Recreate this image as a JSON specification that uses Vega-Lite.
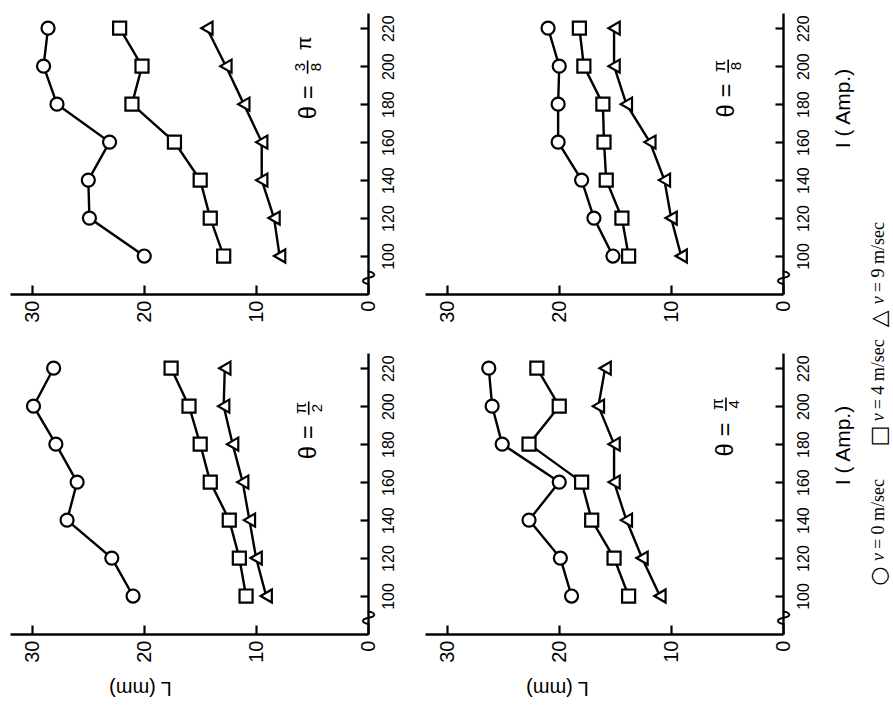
{
  "$schema": "https://vega.github.io/schema/vega-lite/v6.json",
  "background": "white",
  "padding": {"left": 10, "top": 13, "right": 10, "bottom": 20},
  "datasets": {
    "meas": [
      {"theta": "3π/8", "v": "0", "I": 100, "L": 20.0}, {"theta": "3π/8", "v": "0", "I": 120, "L": 24.9}, {"theta": "3π/8", "v": "0", "I": 140, "L": 25.0}, {"theta": "3π/8", "v": "0", "I": 160, "L": 23.1}, {"theta": "3π/8", "v": "0", "I": 180, "L": 27.8}, {"theta": "3π/8", "v": "0", "I": 200, "L": 29.0}, {"theta": "3π/8", "v": "0", "I": 220, "L": 28.6},
      {"theta": "3π/8", "v": "4", "I": 100, "L": 12.9}, {"theta": "3π/8", "v": "4", "I": 120, "L": 14.1}, {"theta": "3π/8", "v": "4", "I": 140, "L": 15.0}, {"theta": "3π/8", "v": "4", "I": 160, "L": 17.3}, {"theta": "3π/8", "v": "4", "I": 180, "L": 21.1}, {"theta": "3π/8", "v": "4", "I": 200, "L": 20.2}, {"theta": "3π/8", "v": "4", "I": 220, "L": 22.2},
      {"theta": "3π/8", "v": "9", "I": 100, "L": 7.9}, {"theta": "3π/8", "v": "9", "I": 120, "L": 8.4}, {"theta": "3π/8", "v": "9", "I": 140, "L": 9.5}, {"theta": "3π/8", "v": "9", "I": 160, "L": 9.5}, {"theta": "3π/8", "v": "9", "I": 180, "L": 11.1}, {"theta": "3π/8", "v": "9", "I": 200, "L": 12.7}, {"theta": "3π/8", "v": "9", "I": 220, "L": 14.4},
      {"theta": "π/8", "v": "0", "I": 100, "L": 15.2}, {"theta": "π/8", "v": "0", "I": 120, "L": 16.9}, {"theta": "π/8", "v": "0", "I": 140, "L": 18.0}, {"theta": "π/8", "v": "0", "I": 160, "L": 20.1}, {"theta": "π/8", "v": "0", "I": 180, "L": 20.1}, {"theta": "π/8", "v": "0", "I": 200, "L": 20.0}, {"theta": "π/8", "v": "0", "I": 220, "L": 21.0},
      {"theta": "π/8", "v": "4", "I": 100, "L": 13.8}, {"theta": "π/8", "v": "4", "I": 120, "L": 14.4}, {"theta": "π/8", "v": "4", "I": 140, "L": 15.8}, {"theta": "π/8", "v": "4", "I": 160, "L": 16.0}, {"theta": "π/8", "v": "4", "I": 180, "L": 16.1}, {"theta": "π/8", "v": "4", "I": 200, "L": 17.8}, {"theta": "π/8", "v": "4", "I": 220, "L": 18.2},
      {"theta": "π/8", "v": "9", "I": 100, "L": 9.1}, {"theta": "π/8", "v": "9", "I": 120, "L": 10.0}, {"theta": "π/8", "v": "9", "I": 140, "L": 10.6}, {"theta": "π/8", "v": "9", "I": 160, "L": 11.9}, {"theta": "π/8", "v": "9", "I": 180, "L": 14.0}, {"theta": "π/8", "v": "9", "I": 200, "L": 15.1}, {"theta": "π/8", "v": "9", "I": 220, "L": 15.1},
      {"theta": "π/2", "v": "0", "I": 100, "L": 21.0}, {"theta": "π/2", "v": "0", "I": 120, "L": 22.9}, {"theta": "π/2", "v": "0", "I": 140, "L": 26.9}, {"theta": "π/2", "v": "0", "I": 160, "L": 26.0}, {"theta": "π/2", "v": "0", "I": 180, "L": 27.9}, {"theta": "π/2", "v": "0", "I": 200, "L": 29.9}, {"theta": "π/2", "v": "0", "I": 220, "L": 28.1},
      {"theta": "π/2", "v": "4", "I": 100, "L": 10.9}, {"theta": "π/2", "v": "4", "I": 120, "L": 11.5}, {"theta": "π/2", "v": "4", "I": 140, "L": 12.4}, {"theta": "π/2", "v": "4", "I": 160, "L": 14.1}, {"theta": "π/2", "v": "4", "I": 180, "L": 15.0}, {"theta": "π/2", "v": "4", "I": 200, "L": 16.0}, {"theta": "π/2", "v": "4", "I": 220, "L": 17.6},
      {"theta": "π/2", "v": "9", "I": 100, "L": 9.1}, {"theta": "π/2", "v": "9", "I": 120, "L": 10.0}, {"theta": "π/2", "v": "9", "I": 140, "L": 10.6}, {"theta": "π/2", "v": "9", "I": 160, "L": 11.2}, {"theta": "π/2", "v": "9", "I": 180, "L": 12.1}, {"theta": "π/2", "v": "9", "I": 200, "L": 12.9}, {"theta": "π/2", "v": "9", "I": 220, "L": 12.8},
      {"theta": "π/4", "v": "0", "I": 100, "L": 18.9}, {"theta": "π/4", "v": "0", "I": 120, "L": 19.9}, {"theta": "π/4", "v": "0", "I": 140, "L": 22.7}, {"theta": "π/4", "v": "0", "I": 160, "L": 20.0}, {"theta": "π/4", "v": "0", "I": 180, "L": 25.1}, {"theta": "π/4", "v": "0", "I": 200, "L": 26.0}, {"theta": "π/4", "v": "0", "I": 220, "L": 26.3},
      {"theta": "π/4", "v": "4", "I": 100, "L": 13.8}, {"theta": "π/4", "v": "4", "I": 120, "L": 15.1}, {"theta": "π/4", "v": "4", "I": 140, "L": 17.1}, {"theta": "π/4", "v": "4", "I": 160, "L": 18.0}, {"theta": "π/4", "v": "4", "I": 180, "L": 22.7}, {"theta": "π/4", "v": "4", "I": 200, "L": 20.0}, {"theta": "π/4", "v": "4", "I": 220, "L": 22.0},
      {"theta": "π/4", "v": "9", "I": 100, "L": 11.0}, {"theta": "π/4", "v": "9", "I": 120, "L": 12.6}, {"theta": "π/4", "v": "9", "I": 140, "L": 14.0}, {"theta": "π/4", "v": "9", "I": 160, "L": 15.1}, {"theta": "π/4", "v": "9", "I": 180, "L": 15.1}, {"theta": "π/4", "v": "9", "I": 200, "L": 16.5}, {"theta": "π/4", "v": "9", "I": 220, "L": 15.9}
    ],
    "legend": [
      {"sym": "○", "label": "= 0 m/sec", "I": 110.5, "T": 118.4},
      {"sym": "□", "label": "= 4 m/sec", "I": 184.2, "T": 192},
      {"sym": "△", "label": "= 9 m/sec", "I": 246, "T": 253.7}
    ]
  },
  "columns": 2,
  "bounds": "flush",
  "spacing": {"row": 59, "column": 57},
  "concat": [
    {
      "width": 358, "height": 281,
      "layer": [
        {"data": {"name": "meas"}, "transform": [{"filter": "datum.theta === '3π/8'"}],
         "mark": {"type": "line", "color": "black", "strokeWidth": 2.4},
         "encoding": {
           "x": {"field": "L", "type": "quantitative", "scale": {"domain": [0, 32], "reverse": true, "nice": false, "zero": false},
                 "axis": {"values": [0, 10, 20, 30], "labelAngle": 270, "labelAlign": "right", "labelBaseline": "middle", "labelFontSize": 20, "tickSize": -9, "labelPadding": 15, "title": null}},
           "y": {"field": "I", "type": "quantitative", "scale": {"domain": [80, 228], "nice": false, "zero": false},
                 "axis": {"orient": "right", "values": [100, 120, 140, 160, 180, 200, 220], "labelAngle": 270, "labelAlign": "center", "labelBaseline": "top", "labelFontSize": 16, "tickSize": -8, "labelPadding": 20, "title": null}},
           "detail": {"field": "v", "type": "nominal"},
           "order": {"field": "I", "type": "quantitative"}
         }},
        {"data": {"name": "meas"}, "transform": [{"filter": "datum.theta === '3π/8'"}],
         "mark": {"type": "point", "filled": true, "fill": "white", "stroke": "black", "strokeWidth": 2.2, "size": 170, "opacity": 1},
         "encoding": {
           "x": {"field": "L", "type": "quantitative"},
           "y": {"field": "I", "type": "quantitative"},
           "shape": {"field": "v", "type": "nominal", "scale": {"domain": ["0", "4", "9"], "range": ["circle", "square", "triangle-left"]}, "legend": null}
         }},
        {"data": {"values": [{}]}, "mark": {"type": "text", "text": "θ =", "angle": 270, "align": "left", "baseline": "middle", "fontSize": 24},
         "encoding": {"x": {"datum": 5.3, "type": "quantitative"}, "y": {"datum": 172, "type": "quantitative"}}},
        {"data": {"values": [{}]}, "mark": {"type": "text", "text": "3", "angle": 270, "align": "center", "baseline": "middle", "fontSize": 15, "dy": -8},
         "encoding": {"x": {"datum": 5.4, "type": "quantitative"}, "y": {"datum": 199.5, "type": "quantitative"}}},
        {"data": {"values": [{}]}, "mark": {"type": "text", "text": "8", "angle": 270, "align": "center", "baseline": "middle", "fontSize": 15, "dy": 8},
         "encoding": {"x": {"datum": 5.4, "type": "quantitative"}, "y": {"datum": 199.5, "type": "quantitative"}}},
        {"data": {"values": [{}]}, "mark": {"type": "rule", "color": "black", "strokeWidth": 1.6},
         "encoding": {"x": {"datum": 5.4, "type": "quantitative"}, "y": {"datum": 196, "type": "quantitative"}, "y2": {"datum": 203}}},
        {"data": {"values": [{}]}, "mark": {"type": "text", "text": "π", "angle": 270, "align": "center", "baseline": "middle", "fontSize": 20},
         "encoding": {"x": {"datum": 5.6, "type": "quantitative"}, "y": {"datum": 212, "type": "quantitative"}}},
        {"data": {"values": [{}]}, "mark": {"type": "text", "text": "∿", "angle": 90, "align": "center", "baseline": "middle", "fontSize": 24, "font": "DejaVu Sans"},
         "encoding": {"x": {"datum": 0, "type": "quantitative"}, "y": {"datum": 88.5, "type": "quantitative"}}}
      ]
    },
    {
      "width": 358, "height": 281,
      "layer": [
        {"data": {"name": "meas"}, "transform": [{"filter": "datum.theta === 'π/8'"}],
         "mark": {"type": "line", "color": "black", "strokeWidth": 2.4},
         "encoding": {
           "x": {"field": "L", "type": "quantitative", "scale": {"domain": [0, 32], "reverse": true, "nice": false, "zero": false},
                 "axis": {"values": [0, 10, 20, 30], "labelAngle": 270, "labelAlign": "right", "labelBaseline": "middle", "labelFontSize": 20, "tickSize": -9, "labelPadding": 15, "title": null}},
           "y": {"field": "I", "type": "quantitative", "scale": {"domain": [80, 228], "nice": false, "zero": false},
                 "axis": {"orient": "right", "values": [100, 120, 140, 160, 180, 200, 220], "labelAngle": 270, "labelAlign": "center", "labelBaseline": "top", "labelFontSize": 16, "tickSize": -8, "labelPadding": 20,
                          "title": "I ( Amp.)", "titleAngle": 270, "titleFontSize": 21, "titleAlign": "center", "titleBaseline": "middle", "titleX": 60, "titleY": 95}},
           "detail": {"field": "v", "type": "nominal"},
           "order": {"field": "I", "type": "quantitative"}
         }},
        {"data": {"name": "meas"}, "transform": [{"filter": "datum.theta === 'π/8'"}],
         "mark": {"type": "point", "filled": true, "fill": "white", "stroke": "black", "strokeWidth": 2.2, "size": 170, "opacity": 1},
         "encoding": {
           "x": {"field": "L", "type": "quantitative"},
           "y": {"field": "I", "type": "quantitative"},
           "shape": {"field": "v", "type": "nominal", "scale": {"domain": ["0", "4", "9"], "range": ["circle", "square", "triangle-left"]}, "legend": null}
         }},
        {"data": {"values": [{}]}, "mark": {"type": "text", "text": "θ =", "angle": 270, "align": "left", "baseline": "middle", "fontSize": 24},
         "encoding": {"x": {"datum": 5.0, "type": "quantitative"}, "y": {"datum": 173, "type": "quantitative"}}},
        {"data": {"values": [{}]}, "mark": {"type": "text", "text": "π", "angle": 270, "align": "center", "baseline": "middle", "fontSize": 17, "dy": -8},
         "encoding": {"x": {"datum": 4.9, "type": "quantitative"}, "y": {"datum": 200, "type": "quantitative"}}},
        {"data": {"values": [{}]}, "mark": {"type": "text", "text": "8", "angle": 270, "align": "center", "baseline": "middle", "fontSize": 15, "dy": 8},
         "encoding": {"x": {"datum": 4.9, "type": "quantitative"}, "y": {"datum": 200, "type": "quantitative"}}},
        {"data": {"values": [{}]}, "mark": {"type": "rule", "color": "black", "strokeWidth": 1.6},
         "encoding": {"x": {"datum": 4.9, "type": "quantitative"}, "y": {"datum": 196.5, "type": "quantitative"}, "y2": {"datum": 203.5}}},
        {"data": {"values": [{}]}, "mark": {"type": "text", "text": "∿", "angle": 90, "align": "center", "baseline": "middle", "fontSize": 24, "font": "DejaVu Sans"},
         "encoding": {"x": {"datum": 0, "type": "quantitative"}, "y": {"datum": 88.5, "type": "quantitative"}}}
      ]
    },
    {
      "width": 358, "height": 281,
      "layer": [
        {"data": {"name": "meas"}, "transform": [{"filter": "datum.theta === 'π/2'"}],
         "mark": {"type": "line", "color": "black", "strokeWidth": 2.4},
         "encoding": {
           "x": {"field": "L", "type": "quantitative", "scale": {"domain": [0, 32], "reverse": true, "nice": false, "zero": false},
                 "axis": {"values": [0, 10, 20, 30], "labelAngle": 270, "labelAlign": "right", "labelBaseline": "middle", "labelFontSize": 20, "tickSize": -9, "labelPadding": 15,
                          "title": "L  (mm)", "titleAngle": 180, "titleFontSize": 20, "titleAlign": "center", "titleBaseline": "middle", "titleX": 130, "titleY": 53}},
           "y": {"field": "I", "type": "quantitative", "scale": {"domain": [80, 228], "nice": false, "zero": false},
                 "axis": {"orient": "right", "values": [100, 120, 140, 160, 180, 200, 220], "labelAngle": 270, "labelAlign": "center", "labelBaseline": "top", "labelFontSize": 16, "tickSize": -8, "labelPadding": 20, "title": null}},
           "detail": {"field": "v", "type": "nominal"},
           "order": {"field": "I", "type": "quantitative"}
         }},
        {"data": {"name": "meas"}, "transform": [{"filter": "datum.theta === 'π/2'"}],
         "mark": {"type": "point", "filled": true, "fill": "white", "stroke": "black", "strokeWidth": 2.2, "size": 170, "opacity": 1},
         "encoding": {
           "x": {"field": "L", "type": "quantitative"},
           "y": {"field": "I", "type": "quantitative"},
           "shape": {"field": "v", "type": "nominal", "scale": {"domain": ["0", "4", "9"], "range": ["circle", "square", "triangle-left"]}, "legend": null}
         }},
        {"data": {"values": [{}]}, "mark": {"type": "text", "text": "θ =", "angle": 270, "align": "left", "baseline": "middle", "fontSize": 24},
         "encoding": {"x": {"datum": 5.3, "type": "quantitative"}, "y": {"datum": 172, "type": "quantitative"}}},
        {"data": {"values": [{}]}, "mark": {"type": "text", "text": "π", "angle": 270, "align": "center", "baseline": "middle", "fontSize": 17, "dy": -8},
         "encoding": {"x": {"datum": 5.3, "type": "quantitative"}, "y": {"datum": 199, "type": "quantitative"}}},
        {"data": {"values": [{}]}, "mark": {"type": "text", "text": "2", "angle": 270, "align": "center", "baseline": "middle", "fontSize": 15, "dy": 8},
         "encoding": {"x": {"datum": 5.3, "type": "quantitative"}, "y": {"datum": 199, "type": "quantitative"}}},
        {"data": {"values": [{}]}, "mark": {"type": "rule", "color": "black", "strokeWidth": 1.6},
         "encoding": {"x": {"datum": 5.3, "type": "quantitative"}, "y": {"datum": 195.5, "type": "quantitative"}, "y2": {"datum": 202.5}}},
        {"data": {"values": [{}]}, "mark": {"type": "text", "text": "∿", "angle": 90, "align": "center", "baseline": "middle", "fontSize": 24, "font": "DejaVu Sans"},
         "encoding": {"x": {"datum": 0, "type": "quantitative"}, "y": {"datum": 88.5, "type": "quantitative"}}}
      ]
    },
    {
      "width": 358, "height": 281,
      "layer": [
        {"data": {"name": "meas"}, "transform": [{"filter": "datum.theta === 'π/4'"}],
         "mark": {"type": "line", "color": "black", "strokeWidth": 2.4},
         "encoding": {
           "x": {"field": "L", "type": "quantitative", "scale": {"domain": [0, 32], "reverse": true, "nice": false, "zero": false},
                 "axis": {"values": [0, 10, 20, 30], "labelAngle": 270, "labelAlign": "right", "labelBaseline": "middle", "labelFontSize": 20, "tickSize": -9, "labelPadding": 15,
                          "title": "L  (mm)", "titleAngle": 180, "titleFontSize": 20, "titleAlign": "center", "titleBaseline": "middle", "titleX": 132, "titleY": 53}},
           "y": {"field": "I", "type": "quantitative", "scale": {"domain": [80, 228], "nice": false, "zero": false},
                 "axis": {"orient": "right", "values": [100, 120, 140, 160, 180, 200, 220], "labelAngle": 270, "labelAlign": "center", "labelBaseline": "top", "labelFontSize": 16, "tickSize": -8, "labelPadding": 20,
                          "title": "I ( Amp.)", "titleAngle": 270, "titleFontSize": 21, "titleAlign": "center", "titleBaseline": "middle", "titleX": 60, "titleY": 92}},
           "detail": {"field": "v", "type": "nominal"},
           "order": {"field": "I", "type": "quantitative"}
         }},
        {"data": {"name": "meas"}, "transform": [{"filter": "datum.theta === 'π/4'"}],
         "mark": {"type": "point", "filled": true, "fill": "white", "stroke": "black", "strokeWidth": 2.2, "size": 170, "opacity": 1},
         "encoding": {
           "x": {"field": "L", "type": "quantitative"},
           "y": {"field": "I", "type": "quantitative"},
           "shape": {"field": "v", "type": "nominal", "scale": {"domain": ["0", "4", "9"], "range": ["circle", "square", "triangle-left"]}, "legend": null}
         }},
        {"data": {"values": [{}]}, "mark": {"type": "text", "text": "θ =", "angle": 270, "align": "left", "baseline": "middle", "fontSize": 24},
         "encoding": {"x": {"datum": 5.1, "type": "quantitative"}, "y": {"datum": 173.5, "type": "quantitative"}}},
        {"data": {"values": [{}]}, "mark": {"type": "text", "text": "π", "angle": 270, "align": "center", "baseline": "middle", "fontSize": 17, "dy": -8},
         "encoding": {"x": {"datum": 5.1, "type": "quantitative"}, "y": {"datum": 201, "type": "quantitative"}}},
        {"data": {"values": [{}]}, "mark": {"type": "text", "text": "4", "angle": 270, "align": "center", "baseline": "middle", "fontSize": 15, "dy": 8},
         "encoding": {"x": {"datum": 5.1, "type": "quantitative"}, "y": {"datum": 201, "type": "quantitative"}}},
        {"data": {"values": [{}]}, "mark": {"type": "rule", "color": "black", "strokeWidth": 1.6},
         "encoding": {"x": {"datum": 5.1, "type": "quantitative"}, "y": {"datum": 197.5, "type": "quantitative"}, "y2": {"datum": 204.5}}},
        {"data": {"values": [{}]}, "mark": {"type": "text", "text": "∿", "angle": 90, "align": "center", "baseline": "middle", "fontSize": 24, "font": "DejaVu Sans"},
         "encoding": {"x": {"datum": 0, "type": "quantitative"}, "y": {"datum": 88.5, "type": "quantitative"}}},
        {"data": {"name": "legend"}, "mark": {"type": "text", "angle": 270, "align": "center", "baseline": "middle", "fontSize": 22, "font": "DejaVu Sans"},
         "encoding": {"x": {"datum": -8.6, "type": "quantitative"}, "y": {"field": "I", "type": "quantitative"}, "text": {"field": "sym"}}},
        {"data": {"name": "legend"}, "mark": {"type": "text", "text": "v", "angle": 270, "align": "left", "baseline": "middle", "fontSize": 18, "font": "Liberation Serif", "fontStyle": "italic"},
         "encoding": {"x": {"datum": -8.6, "type": "quantitative"}, "y": {"field": "T", "type": "quantitative"}}},
        {"data": {"name": "legend"}, "mark": {"type": "text", "angle": 270, "align": "left", "baseline": "middle", "fontSize": 18, "font": "Liberation Serif", "dx": 12},
         "encoding": {"x": {"datum": -8.6, "type": "quantitative"}, "y": {"field": "T", "type": "quantitative"}, "text": {"field": "label"}}}
      ]
    }
  ],
  "config": {
    "view": {"stroke": null},
    "font": "Liberation Sans",
    "text": {"color": "black"},
    "axis": {"domainColor": "black", "domainWidth": 2.4, "tickColor": "black", "tickWidth": 2.2, "labelColor": "black", "titleColor": "black", "grid": false, "titleFontWeight": "normal", "labelFont": "Liberation Sans", "titleFont": "Liberation Sans"}
  }
}
